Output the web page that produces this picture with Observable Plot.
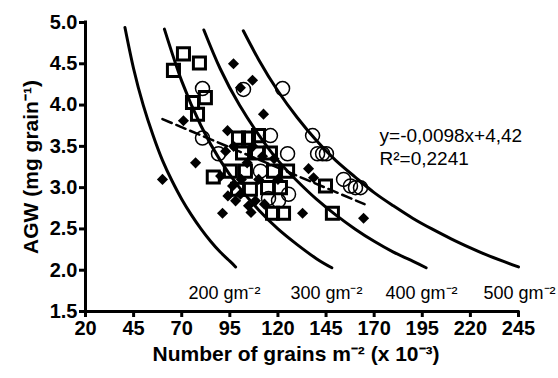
<!DOCTYPE html>
<html>
<head>
<meta charset="utf-8">
<script src="https://cdn.jsdelivr.net/npm/d3@7"></script>
<script src="https://cdn.jsdelivr.net/npm/@observablehq/plot@0.6"></script>
<style>
  html, body { margin: 0; padding: 0; background: #fff; }
  #chart { width: 558px; height: 378px; }
</style>
</head>
<body>
<div id="chart"></div>
<script>
// Axis ticks
const xTicks = [20, 45, 70, 95, 120, 145, 170, 195, 220, 245];
const yTicks = [1.5, 2.0, 2.5, 3.0, 3.5, 4.0, 4.5, 5.0];

// Open squares
const squaresX = [65.7, 70.9, 79.2, 75.6, 78.2, 82.3, 86.4, 99.5, 104.7, 109.9, 101.6, 109.4, 116.1, 95.3, 103.1, 117.7, 125.0, 99.0, 105.7, 114.6, 121.3, 117.2, 122.9, 144.7, 148.3];
const squaresY = [4.42, 4.62, 4.51, 4.03, 3.89, 4.09, 3.13, 3.60, 3.60, 3.63, 3.42, 3.42, 3.42, 3.20, 3.20, 3.20, 3.20, 2.98, 2.98, 3.00, 3.00, 2.69, 2.69, 3.02, 2.69];

// Open circles
const circlesX = [80.8, 102.1, 122.4, 80.8, 116.1, 89.1, 125.0, 110.9, 115.1, 120.3, 125.5, 138.0, 140.6, 143.2, 145.2, 154.1, 157.7, 160.3, 162.9];
const circlesY = [4.20, 4.19, 4.20, 3.60, 3.63, 3.41, 3.41, 3.20, 2.87, 2.84, 2.92, 3.63, 3.41, 3.41, 3.41, 3.10, 3.02, 3.00, 3.00];

// Filled diamonds
const diamondsX = [96.9, 106.8, 100.5, 112.5, 93.8, 77.2, 60.0, 70.9, 91.2, 132.8, 135.9, 138.5, 164.5, 100.5, 92.8, 96.4, 108.3, 112.0, 98.0, 104.7, 90.2, 97.0, 104.0, 110.0, 101.0, 94.0, 107.0, 113.0, 118.0, 106.0, 120.0];
const diamondsY = [4.50, 4.30, 4.21, 3.89, 3.69, 3.30, 3.10, 3.81, 2.69, 2.69, 3.23, 3.12, 2.63, 2.92, 3.44, 3.02, 2.84, 3.38, 2.84, 2.78, 3.14, 3.50, 3.30, 3.10, 3.10, 2.90, 3.50, 2.80, 3.35, 2.70, 3.10];

// Iso-yield curves
const curve200X = [40.5, 45, 50, 55, 60, 65, 70, 75, 80, 85, 90, 95, 98];
const curve200Y = [4.94, 4.44, 4.00, 3.64, 3.33, 3.08, 2.86, 2.67, 2.50, 2.35, 2.22, 2.11, 2.04];
const curve300X = [61, 70, 80, 90, 100, 110, 120, 130, 140, 148];
const curve300Y = [4.92, 4.29, 3.75, 3.33, 3.00, 2.73, 2.50, 2.31, 2.14, 2.03];
const curve400X = [81.5, 90, 100, 110, 120, 130, 140, 150, 160, 170, 180, 190, 197];
const curve400Y = [4.91, 4.44, 4.00, 3.64, 3.33, 3.08, 2.86, 2.67, 2.50, 2.35, 2.22, 2.11, 2.03];
const curve500X = [102, 110, 120, 130, 140, 150, 160, 170, 180, 190, 200, 210, 220, 230, 245];
const curve500Y = [4.90, 4.55, 4.17, 3.85, 3.57, 3.33, 3.13, 2.94, 2.78, 2.63, 2.50, 2.38, 2.27, 2.17, 2.04];

// Curve labels
const curveLabels = ["200 gm\u207B\u00B2", "300 gm\u207B\u00B2", "400 gm\u207B\u00B2", "500 gm\u207B\u00B2"];
const curveLabelX = [73.5, 126.5, 175.9, 226.8];
const curveLabelY = [1.72, 1.72, 1.72, 1.72];

// Regression line (endpoints)
const regX = [60, 165];
const regY = [3.83, 2.80];
const eqLines = ["y=-0,0098x+4,42", "R\u00B2=0,2241"];
const eqX = [172.8, 172.8];
const eqY = [3.63, 3.35];

const zip = (xs, ys) => xs.map((x, i) => ({x, y: ys[i]}));
const squares = zip(squaresX, squaresY);
const circles = zip(circlesX, circlesY);
const diamonds = zip(diamondsX, diamondsY);
const curves = [
  zip(curve200X, curve200Y), zip(curve300X, curve300Y),
  zip(curve400X, curve400Y), zip(curve500X, curve500Y)
];
const labels = curveLabels.map((t, i) => ({t, x: curveLabelX[i], y: curveLabelY[i]}));
const reg = zip(regX, regY);
const eq = eqLines.map((t, i) => ({t, x: eqX[i], y: eqY[i]}));

const font = "Liberation Sans, Arial, Helvetica, sans-serif";

const chart = Plot.plot({
  width: 558,
  height: 378,
  marginLeft: 85,
  marginRight: 40,
  marginTop: 22,
  marginBottom: 67,
  style: {fontFamily: font, color: "#000", background: "#fff"},
  x: {domain: [20, 245]},
  y: {domain: [1.5, 5.0]},
  marks: [
    ...curves.map(c => Plot.line(c, {x: "x", y: "y", curve: "natural", stroke: "#000", strokeWidth: 3})),
    Plot.line(reg, {x: "x", y: "y", stroke: "#000", strokeWidth: 2.5, strokeDasharray: "10,5"}),
    Plot.dot(circles, {x: "x", y: "y", symbol: "circle", r: 7, stroke: "#000", strokeWidth: 1.5, fill: "none"}),
    Plot.dot(diamonds, {x: "x", y: "y", symbol: "diamond2", r: 5, fill: "#000", stroke: "none"}),
    Plot.dot(squares, {x: "x", y: "y", symbol: "square", r: 6.8, stroke: "#000", strokeWidth: 3, fill: "none"}),
    Plot.text(labels, {x: "x", y: "y", text: "t", textAnchor: "start", fontSize: 18, fill: "#000"}),
    Plot.text(eq, {x: "x", y: "y", text: "t", textAnchor: "start", fontSize: 19, fill: "#000"}),
    Plot.ruleX([20], {y1: 1.5, y2: 5.0, stroke: "#000", strokeWidth: 3, strokeLinecap: "square"}),
    Plot.ruleY([1.5], {x1: 20, x2: 245, stroke: "#000", strokeWidth: 3, strokeLinecap: "square"}),
    Plot.axisX({ticks: xTicks, tickSize: 6, tickPadding: 3, fontSize: 20, fontWeight: "bold", strokeWidth: 3, label: null, tickFormat: d => String(d)}),
    Plot.axisY({ticks: yTicks, tickSize: 6, tickPadding: 2, fontSize: 20, fontWeight: "bold", strokeWidth: 3, label: null, tickFormat: d3.format(".1f")}),
    Plot.text(["Number of grains m\u207B\u00B2 (x 10\u207B\u00B3)"], {frameAnchor: "bottom", dy: 49, dx: -6, fontSize: 21, fontWeight: "bold", fill: "#000"}),
    Plot.text(["AGW (mg grain\u207B\u00B9)"], {frameAnchor: "left", textAnchor: "middle", dx: -54, rotate: -90, fontSize: 21, fontWeight: "bold", fill: "#000"})
  ]
});
document.getElementById("chart").appendChild(chart);
</script>
</body>
</html>
